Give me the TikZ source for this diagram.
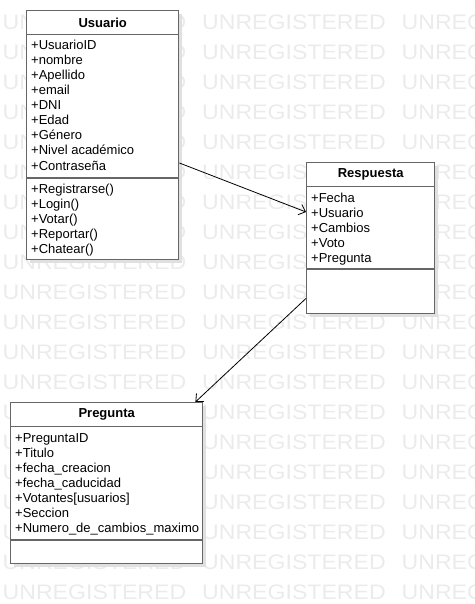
\documentclass[tikz,border=0pt]{standalone}
\usepackage{fontspec}
\setmainfont{Liberation Sans}
\newfontfamily\wmfont[FakeStretch=1.1]{Liberation Sans}
\usetikzlibrary{arrows.meta,shadows}
\tikzset{
  classbox/.style={draw=black!60,line width=1.4pt,fill=white,anchor=north west,inner sep=0pt,
    drop shadow={shadow xshift=3pt,shadow yshift=-3pt,fill=black!12,opacity=1}},
  classsep/.style={draw=black!60,line width=1.4pt},
  classname/.style={font=\fontsize{13}{15}\selectfont\bfseries,inner sep=0pt},
  member/.style={font=\fontsize{13}{15}\selectfont,anchor=base west,inner sep=0pt},
  wmark/.style={text=black!8,font=\wmfont\fontsize{21}{21}\selectfont,anchor=west,inner sep=0pt},
  assoc/.style={-{Straight Barb[length=6pt,width=11pt]},line width=0.8pt},
}

\begin{document}
\begin{tikzpicture}[x=1pt,y=-1pt]
\clip (0,0) rectangle (474,604);
% watermark rows
\foreach \r in {0,...,19}
  \foreach \c in {0,1,2}
    \node[wmark] (wm\r-\c) at (2.5+199.5*\c,22.5+30*\r) {UNREGISTERED};

% the three classes
\node[classbox,minimum width=152pt,minimum height=249pt] (usuario) at (26,10) {};
\node[classbox,minimum width=128pt,minimum height=151pt] (respuesta) at (306,162) {};
\node[classbox,minimum width=192pt,minimum height=161pt] (pregunta) at (10,402) {};

% header and compartment lines
\draw[classsep] ([yshift=-24.5pt]usuario.north west) -- ([yshift=-24.5pt]usuario.north east);
\draw[classsep] ([yshift=-168pt]usuario.north west) -- ([yshift=-168pt]usuario.north east);
\draw[classsep] ([yshift=-24.5pt]respuesta.north west) -- ([yshift=-24.5pt]respuesta.north east);
\draw[classsep] ([yshift=-107pt]respuesta.north west) -- ([yshift=-107pt]respuesta.north east);
\draw[classsep] ([yshift=-24.5pt]pregunta.north west) -- ([yshift=-24.5pt]pregunta.north east);
\draw[classsep] ([yshift=-138pt]pregunta.north west) -- ([yshift=-138pt]pregunta.north east);

% names
\node[classname] (usuarioname) at ([yshift=-12.5pt]usuario.north) {Usuario};
\node[classname] (respuestaname) at ([yshift=-12.5pt]respuesta.north) {Respuesta};
\node[classname] (preguntaname) at ([yshift=-12.5pt]pregunta.north) {Pregunta};

% members
\foreach \t [count=\i] in {+UsuarioID,+nombre,+Apellido,+email,+DNI,+Edad,+Género,+Nivel académico,+Contraseña}
  \node[member] (ua\i) at (31,35+15*\i) {\t};
\foreach \t [count=\i] in {+Registrarse(),+Login(),+Votar(),+Reportar(),+Chatear()}
  \node[member] (um\i) at (31,178.5+15*\i) {\t};
\foreach \t [count=\i] in {+Fecha,+Usuario,+Cambios,+Voto,+Pregunta}
  \node[member] (ra\i) at (311,187.5+15*\i) {\t};
\foreach \t [count=\i] in {+PreguntaID,+Titulo,+fecha\_creacion,+fecha\_caducidad,+Votantes[usuarios],+Seccion,+Numero\_de\_cambios\_maximo}
  \node[member] (pa\i) at (15,427.5+15*\i) {\t};

% associations
\draw[assoc] ([yshift=-153pt]usuario.north east) -- ([yshift=-50pt]respuesta.north west);
\draw[assoc] ([yshift=16pt]respuesta.south west) -- ([xshift=-8pt]pregunta.north east);
\end{tikzpicture}
\end{document}
